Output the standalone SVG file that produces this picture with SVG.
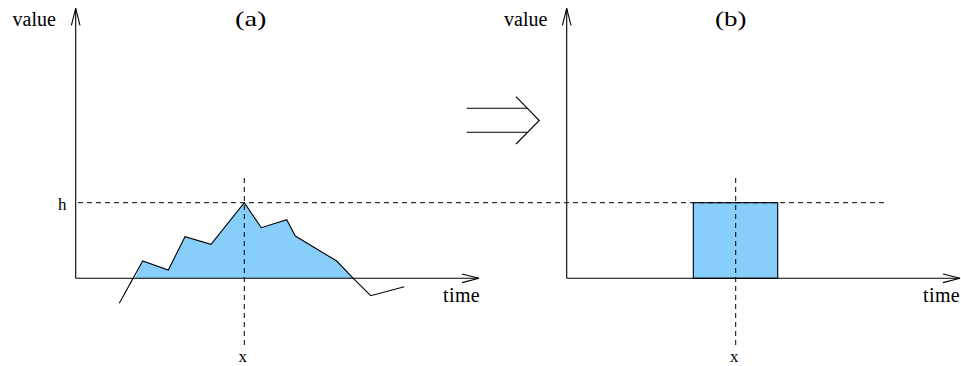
<svg xmlns="http://www.w3.org/2000/svg" width="961" height="366" viewBox="0 0 961 366">
<style>
.ax{stroke:#000;stroke-width:1.1;fill:none}
.ln{stroke:#000;stroke-width:1.1;fill:none;stroke-linejoin:miter}
.dash{stroke:#000;stroke-width:1;fill:none;stroke-dasharray:5 4}
.fill{fill:#87cefa;stroke:none}
.t{font-family:"Liberation Serif","Times New Roman",serif;fill:#000}
.lab{font-size:20px}
.par{font-size:22px}
</style>
<defs>
<marker id="open" markerUnits="userSpaceOnUse" viewBox="-18 -6 20 12" refX="0" refY="0" markerWidth="20" markerHeight="12" orient="auto" overflow="visible">
<path d="M-17,-4.3 L0,0 L-17,4.3" fill="none" stroke="#000" stroke-width="1.1"/>
</marker>
</defs>
<rect width="961" height="366" fill="#fff"/>
<g id="panel-a">
<polygon class="fill" points="135,278.3 142.7,261 168.3,270 185,236.7 211,244.3 244.3,202.7 261.3,227.7 286.7,219.7 295.3,236 336.7,261 353.3,278.3"/>
<line class="ax" x1="75.7" y1="278.3" x2="75.7" y2="8.3" marker-end="url(#open)"/>
<line class="ax" x1="75.7" y1="278.3" x2="479" y2="278.3" marker-end="url(#open)"/>
<polyline class="ln" points="119.3,303.3 142.7,261 168.3,270 185,236.7 211,244.3 244.3,202.7 261.3,227.7 286.7,219.7 295.3,236 336.7,261 353.3,278.3 370.7,295.7 404.3,286.7"/>
<line class="dash" x1="244.3" y1="178" x2="244.3" y2="347"/>
<text class="t lab" x="12.5" y="25.5">value</text>
<text class="t par" x="235" y="26" textLength="31.5" lengthAdjust="spacingAndGlyphs">(a)</text>
<text class="t" x="58" y="210" font-size="17">h</text>
<text class="t lab" x="443" y="301.5" letter-spacing="0.4">time</text>
<text class="t" x="238.5" y="362" font-size="17">x</text>
</g>
<g id="implies">
<line class="ln" x1="466.7" y1="108.3" x2="527.5" y2="108.3"/>
<line class="ln" x1="466.7" y1="132.3" x2="527.5" y2="132.3"/>
<polyline class="ln" points="516,96.7 539.3,120.5 516,144"/>
</g>
<g id="panel-b">
<rect x="693.3" y="202.7" width="84.4" height="75.6" fill="#87cefa" stroke="#000" stroke-width="1.1"/>
<line class="ax" x1="566.7" y1="278.3" x2="566.7" y2="8.3" marker-end="url(#open)"/>
<line class="ax" x1="566.7" y1="278.3" x2="960" y2="278.3" marker-end="url(#open)"/>
<line class="dash" x1="735.7" y1="178" x2="735.7" y2="347"/>
<text class="t lab" x="504" y="25.5">value</text>
<text class="t par" x="715" y="26" textLength="31.5" lengthAdjust="spacingAndGlyphs">(b)</text>
<text class="t lab" x="923" y="301.5" letter-spacing="0.4">time</text>
<text class="t" x="730" y="362" font-size="17">x</text>
</g>
<g id="connectors">
<line class="dash" x1="78" y1="202.7" x2="885" y2="202.7"/>
</g>
</svg>
